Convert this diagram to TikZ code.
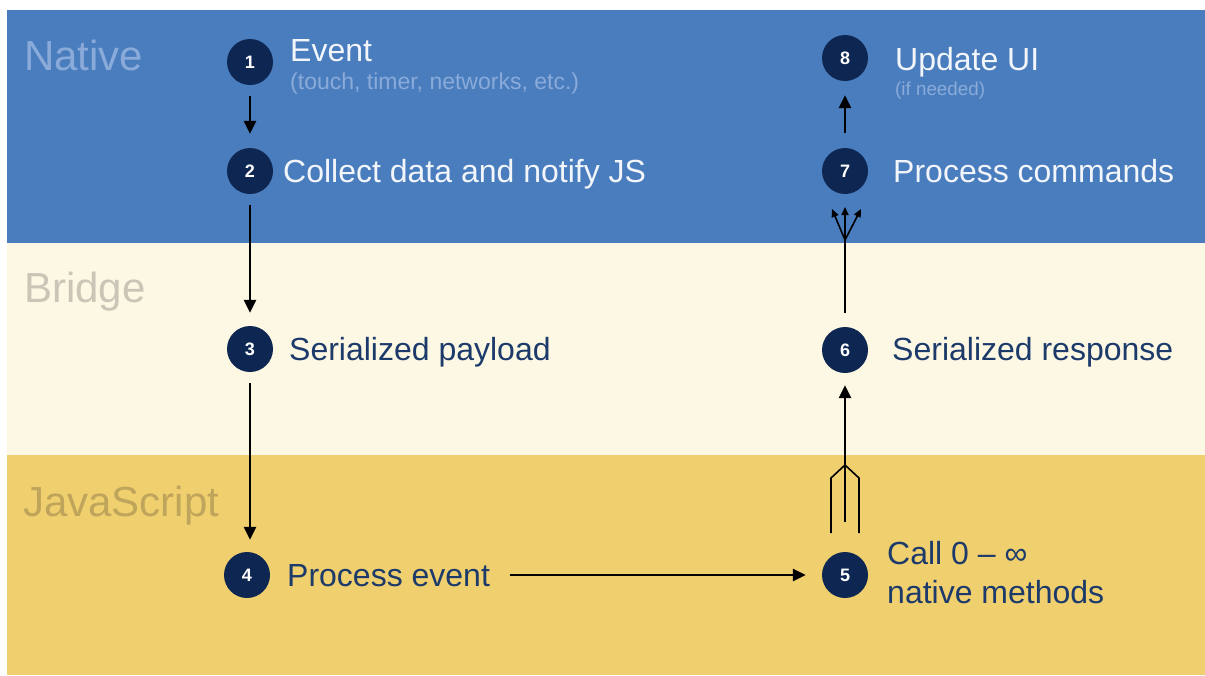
\documentclass[tikz,border=0pt]{standalone}
\usepackage{fontspec}
\setmainfont{Liberation Sans}
\usetikzlibrary{arrows.meta}
\definecolor{nativeblue}{HTML}{4A7DBD}
\definecolor{bridgebg}{HTML}{FDF8E4}
\definecolor{jsbg}{HTML}{F0CF6E}
\definecolor{circ}{HTML}{0E2752}
\definecolor{ntext}{HTML}{F2F5FA}
\definecolor{nlabel}{HTML}{8AABDA}
\definecolor{blabel}{HTML}{C9C5B7}
\definecolor{jlabel}{HTML}{BFA55C}
\definecolor{dtext}{HTML}{1C3A6A}
\tikzset{
  stepnum/.style={circle,fill=circ,minimum size=46pt,inner sep=0pt,text=white,font=\bfseries\fontsize{18}{18}\selectfont},
  bigtxt/.style={anchor=base west,inner sep=0pt,font=\fontsize{32}{36}\selectfont},
  smalltxt/.style={anchor=base west,inner sep=0pt},
  bandlbl/.style={anchor=base west,inner sep=0pt,font=\fontsize{42}{48}\selectfont},
  arr/.style={line width=2.6pt,-{Triangle[length=13pt,width=12pt]}},
  thinarr/.style={line width=1.6pt,-{Triangle[length=8pt,width=7pt]}},
  thin/.style={line width=1.6pt},
}
\begin{document}
\begin{tikzpicture}[x=1pt,y=-1pt]
\useasboundingbox (0,0) rectangle (1205,675);
\fill[white] (0,0) rectangle (1205,675);
\fill[nativeblue] (7,10) rectangle (1205,243);
\fill[bridgebg] (7,243) rectangle (1205,455);
\fill[jsbg] (7,455) rectangle (1205,675);
% band labels
\node[bandlbl,text=nlabel] (lnative) at (24,70) {Native};
\node[bandlbl,text=blabel] (lbridge) at (24,302) {Bridge};
\node[bandlbl,text=jlabel] (ljs) at (23,516) {JavaScript};
% circles
\node[stepnum] (c1) at (250,62) {1};
\node[stepnum] (c2) at (250,171) {2};
\node[stepnum] (c3) at (250,349) {3};
\node[stepnum] (c4) at (247,575) {4};
\node[stepnum] (c5) at (845,575) {5};
\node[stepnum] (c6) at (845,350) {6};
\node[stepnum] (c7) at (845,171) {7};
\node[stepnum] (c8) at (845,58) {8};
% texts
\node[bigtxt,text=ntext] (t1) at (290,61) {Event};
\node[smalltxt,text=nlabel,font=\fontsize{23}{26}\selectfont] (t1b) at (290,89) {(touch, timer, networks, etc.)};
\node[bigtxt,text=ntext] (t2) at (283,182) {Collect data and notify JS};
\node[bigtxt,text=dtext] (t3) at (289,360) {Serialized payload};
\node[bigtxt,text=dtext] (t4) at (287,586) {Process event};
\node[bigtxt,text=dtext] (t5) at (887,564) {Call 0 – ∞};
\node[bigtxt,text=dtext] (t5b) at (887,603) {native methods};
\node[bigtxt,text=dtext] (t6) at (892,360) {Serialized response};
\node[bigtxt,text=ntext] (t7) at (893,182) {Process commands};
\node[bigtxt,text=ntext] (t8) at (895,70) {Update UI};
\node[smalltxt,text=nlabel,font=\fontsize{18.8}{22}\selectfont] (t8b) at (895,95) {(if needed)};
% simple arrows
\draw[arr,shorten <=11pt,shorten >=14pt] (c1) -- (c2);
\draw[arr,shorten <=11pt,shorten >=13pt] (c2) -- (c3);
\draw[arr,shorten <=11pt,shorten >=12pt] (c3) -- (c3 |- c4.north);
\draw[arr,shorten <=20pt,shorten >=16pt] (t4.east |- c4) -- (c5);
\draw[arr,shorten <=15pt,shorten >=14pt] (c7) -- (c8);
% merge 5 -> 6
\coordinate (mj) at ([yshift=110pt]c5.center);
\coordinate (ml) at ([xshift=-14pt,yshift=97pt]c5.center);
\coordinate (mr) at ([xshift=14pt,yshift=97pt]c5.center);
\coordinate (mlb) at ([xshift=-14pt,yshift=42pt]c5.center);
\coordinate (mrb) at ([xshift=14pt,yshift=42pt]c5.center);
\coordinate (mmb) at ([yshift=53pt]c5.center);
\draw[thin] (mlb) -- (ml) -- (mj);
\draw[thin] (mrb) -- (mr) -- (mj);
\draw[thin] (mmb) -- (mj);
\draw[arr,shorten >=12pt] (mj) -- (c6);
% split 6 -> 7
\coordinate (sj) at ([yshift=110pt]c6.center);
\draw[line width=2.6pt,shorten <=14pt] (c6) -- (sj);
\draw[thinarr] (sj) -- ([xshift=-13pt,yshift=-38pt]c7.center);
\draw[thinarr] (sj) -- ([yshift=-36pt]c7.center);
\draw[thinarr] (sj) -- ([xshift=16pt,yshift=-38pt]c7.center);
\end{tikzpicture}
\end{document}
